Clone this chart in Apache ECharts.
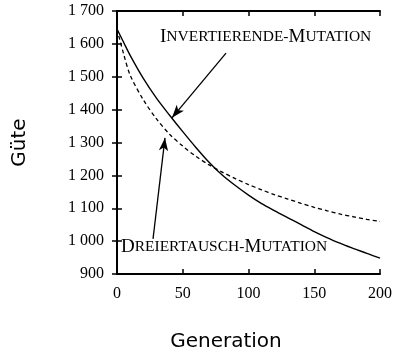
<!DOCTYPE html>
<html>
<head>
<meta charset="utf-8">
<script src="https://cdn.jsdelivr.net/npm/echarts@6/dist/echarts.min.js"></script>
<style>
  html, body { margin: 0; padding: 0; background: #fff; }
  #main { width: 395px; height: 353px; }
</style>
</head>
<body>
<div id="main"></div>
<script>
// Generationen (x) und Güte-Werte der beiden Mutationen
var generations = [0, 5, 10, 20, 30, 40, 50, 60, 70, 80, 90, 100, 110, 120, 130, 140, 150, 160, 170, 180, 190, 200];
var invertierend = [1645, 1605, 1565, 1495, 1435, 1383, 1333, 1285, 1240, 1201, 1169, 1140, 1114, 1092, 1071, 1050, 1029, 1010, 993, 977, 963, 948];
var dreiertausch = [1645, 1570, 1505, 1430, 1372, 1325, 1289, 1258, 1232, 1210, 1190, 1172, 1156, 1141, 1128, 1115, 1103, 1092, 1082, 1074, 1066, 1060];

var xTicks = [0, 50, 100, 150, 200];
var yTicks = [900, 1000, 1100, 1200, 1300, 1400, 1500, 1600, 1700];

// Beschriftungen: [Text-Anfang x, Grundlinie y] und Pfeile [von, nach] in Datenkoordinaten
var labelInv = [32.7, 1592];
var labelDrei = [3, 952];
var arrowInv = [[82.9, 1572], [41.8, 1375]];
var arrowDrei = [[27.4, 1007], [36.5, 1314]];

function pairs(xs, ys) {
    var out = [];
    for (var i = 0; i < xs.length; i++) out.push([xs[i], ys[i]]);
    return out;
}

function fmtY(v) {
    if (v >= 1000) {
        var r = String(v % 1000);
        while (r.length < 3) r = '0' + r;
        return Math.floor(v / 1000) + ' ' + r;
    }
    return String(v);
}

var serif = 'Liberation Serif';
var frame = { show: true, lineStyle: { color: '#000', width: 2 } };
var tickIn = { show: true, inside: true, length: 5, lineStyle: { color: '#000', width: 1.5 } };

var myChart = echarts.init(document.getElementById('main'));

var option = {
    animation: false,
    backgroundColor: '#fff',
    grid: { left: 117, right: 15, top: 11, bottom: 79, outerBoundsMode: 'none', containLabel: false },
    xAxis: [{
        type: 'value',
        min: xTicks[0], max: xTicks[xTicks.length - 1], interval: 50,
        position: 'bottom',
        name: 'Generation',
        nameLocation: 'middle',
        nameGap: 58,
        nameTextStyle: { fontFamily: 'DejaVu Sans', fontSize: 20, color: '#000', padding: [0, 45, 0, 0] },
        axisLine: frame,
        axisTick: tickIn,
        axisLabel: { margin: 12, fontFamily: serif, fontSize: 16, color: '#000' },
        splitLine: { show: false }
    }, {
        type: 'value',
        min: xTicks[0], max: xTicks[xTicks.length - 1], interval: 50,
        position: 'top',
        axisLine: frame,
        axisTick: tickIn,
        axisLabel: { show: false },
        splitLine: { show: false }
    }],
    yAxis: [{
        type: 'value',
        min: yTicks[0], max: yTicks[yTicks.length - 1], interval: 100,
        position: 'left',
        name: 'Güte',
        nameLocation: 'middle',
        nameGap: 87,
        nameTextStyle: { fontFamily: 'DejaVu Sans', fontSize: 20, color: '#000' },
        axisLine: frame,
        axisTick: tickIn,
        axisLabel: { margin: 13, fontFamily: serif, fontSize: 16, color: '#000', formatter: fmtY },
        splitLine: { show: false }
    }, {
        type: 'value',
        min: yTicks[0], max: yTicks[yTicks.length - 1], interval: 100,
        position: 'right',
        axisLine: frame,
        axisTick: tickIn,
        axisLabel: { show: false },
        splitLine: { show: false }
    }],
    series: [{
        name: 'Invertierende-Mutation',
        type: 'line',
        smooth: 0.3,
        showSymbol: false,
        data: pairs(generations, invertierend),
        lineStyle: { color: '#000', width: 1.4 },
        markLine: {
            silent: true,
            symbol: ['none', 'arrow'],
            symbolSize: [7, 13],
            label: { show: false },
            lineStyle: { color: '#000', width: 1.3, type: 'solid' },
            data: [
                [{ coord: arrowInv[0] }, { coord: arrowInv[1] }],
                [{ coord: arrowDrei[0] }, { coord: arrowDrei[1] }]
            ]
        }
    }, {
        name: 'Dreiertausch-Mutation',
        type: 'line',
        smooth: 0.3,
        showSymbol: false,
        data: pairs(generations, dreiertausch),
        lineStyle: { color: '#000', width: 1.3, type: [4, 3] }
    }]
};

myChart.setOption(option);

// Beschriftungen in Kapitälchen, über die Achsen positioniert
var rich = {
    b: { fontFamily: serif, fontSize: 19, color: '#000' },
    s: { fontFamily: serif, fontSize: 15.5, color: '#000' }
};
var p1 = myChart.convertToPixel({ gridIndex: 0 }, labelInv);
var p2 = myChart.convertToPixel({ gridIndex: 0 }, labelDrei);
myChart.setOption({
    graphic: [{
        type: 'text',
        x: p1[0], y: p1[1],
        style: {
            text: '{b|I}{s|NVERTIERENDE-}{b|M}{s|UTATION}',
            rich: rich,
            verticalAlign: 'bottom'
        }
    }, {
        type: 'text',
        x: p2[0], y: p2[1],
        style: {
            text: '{b|D}{s|REIERTAUSCH-}{b|M}{s|UTATION}',
            rich: rich,
            verticalAlign: 'bottom'
        }
    }]
});
</script>
</body>
</html>
